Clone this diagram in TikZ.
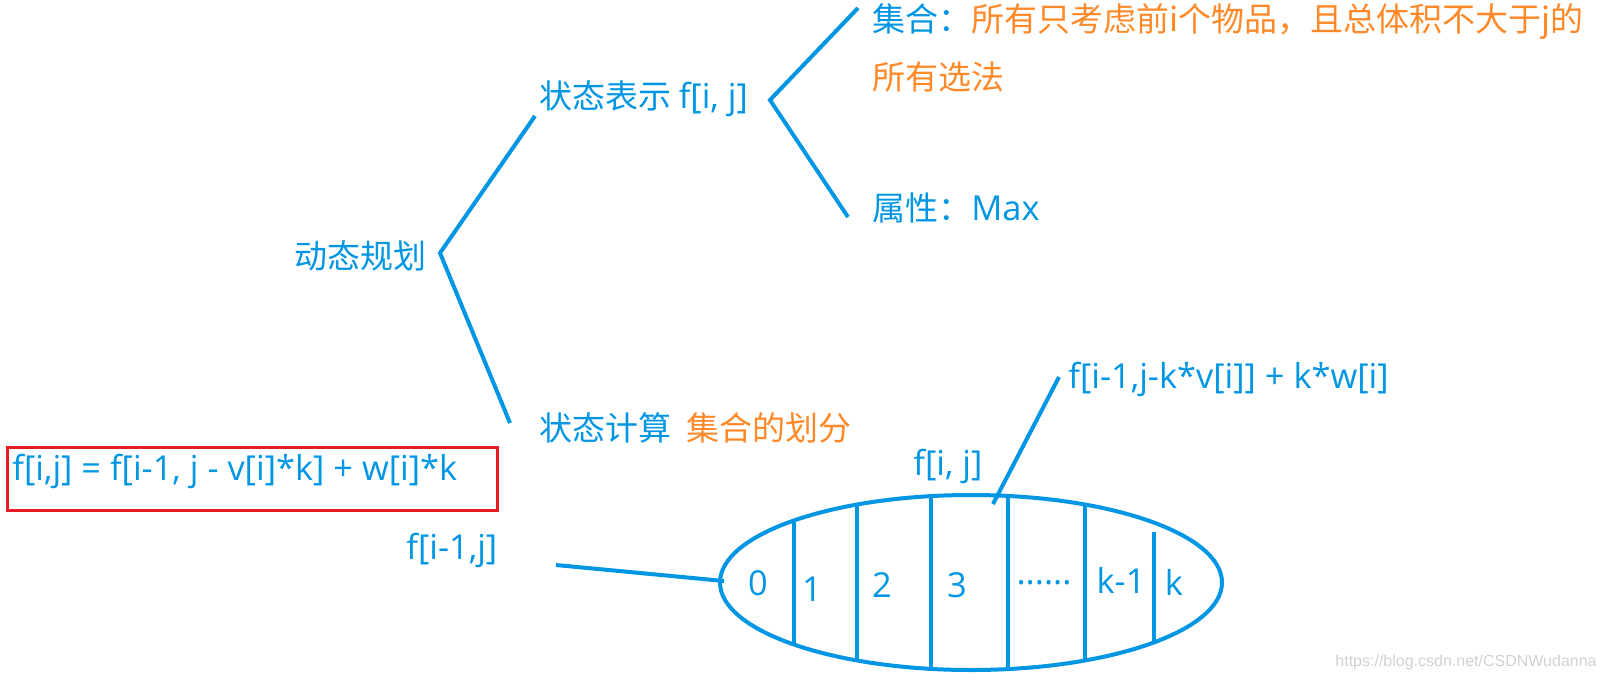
\documentclass[tikz,border=0pt]{standalone}
\usepackage{fontspec}
\setmainfont{Noto Sans CJK SC}
\newfontfamily\latin{Open Sans}
\newfontfamily\markfont{Liberation Sans}
\definecolor{dpblue}{RGB}{0,150,228}
\definecolor{dporange}{RGB}{255,137,40}
\definecolor{boxred}{RGB}{228,28,36}
\newcommand\lt{\latin\fontsize{17.2}{20}\selectfont}

\begin{document}
\begin{tikzpicture}[x=0.5pt,y=-0.5pt]
        \tikzstyle{every node}=[inner sep=0pt, font=\fontsize{16.5}{20}\selectfont, text=dpblue]
        \tikzstyle{branch}=[draw=dpblue, line width=2pt]
        \tikzstyle{hot}=[text=dporange]
        \tikzstyle{lat}=[font=\lt]
        \useasboundingbox (0,0) rectangle (1605,680);

        % tree
        \node[anchor=west] (dp) at (294,256) {动态规划};
        \node[anchor=west] (rep) at (539,99) {状态表示 {\lt f[i, j]}};
        \node[anchor=west] (calc) at (539,428) {状态计算};
        \node[anchor=west, hot] (part) at (686,428) {集合的划分};
        \node[anchor=west] (set) at (872,22) {集合：\textcolor{dporange}{所有只考虑前i个物品，且总体积不大于j的}};
        \node[anchor=west, hot] (set2) at (872,77) {所有选法};
        \node[anchor=west] (attr) at (872,208) {属性：{\lt Max}};

        \coordinate (dpr) at (440,253);
        \coordinate (repl) at (535,116);
        \coordinate (calcl) at (510,423);
        \coordinate (repr) at (770,100);
        \coordinate (setl) at (858,8);
        \coordinate (attrl) at (848,217);
        \draw[branch] (repl) -- (dpr) -- (calcl);
        \draw[branch] (setl) -- (repr) -- (attrl);

        % formula
        \draw[boxred, line width=1.5pt] (7,447) rectangle (497,510);
        \node[anchor=west, lat] (eq) at (12,471) {f[i,j] = f[i-1, j - v[i]*k] + w[i]*k};

        % division of the set
        \node[anchor=west, lat] (prev) at (406,550) {f[i-1,j]};
        \node[anchor=west, lat] (cur) at (913,466) {f[i, j]};
        \node[anchor=west, lat] (gen) at (1068,379) {f[i-1,j-k*v[i]] + k*w[i]};
        \draw[branch] (971,582.5) ellipse [x radius=251, y radius=87.5];
        \begin{scope}
            \clip (971,582.5) ellipse [x radius=251, y radius=87.5];
            \foreach \cx in {794,857,931,1008,1085}
                \draw[branch] (\cx,480) -- (\cx,690);
            \draw[branch] (1154,532) -- (1154,690);
        \end{scope}
        \node[lat] (c0) at (758,583) {0};
        \node[lat] (c1) at (812,589) {1};
        \node[lat] (c2) at (882,585) {2};
        \node[lat] (c3) at (957,585) {3};
        \node[lat] (cdots) at (1044,583) {......};
        \node[lat] (ck1) at (1121,580) {k-1};
        \node[lat] (ck) at (1174,582) {k};

        \coordinate (prevr) at (556,565);
        \coordinate (left) at (724,581);
        \coordinate (top) at (993,504);
        \coordinate (genl) at (1059,377);
        \draw[branch] (prevr) -- (left);
        \draw[branch] (top) -- (genl);

        \node[anchor=east, text=black!18, font=\markfont\fontsize{8}{10}\selectfont] (mark) at (1597,662) {https://blog.csdn.net/CSDNWudanna};
\end{tikzpicture}
\end{document}
